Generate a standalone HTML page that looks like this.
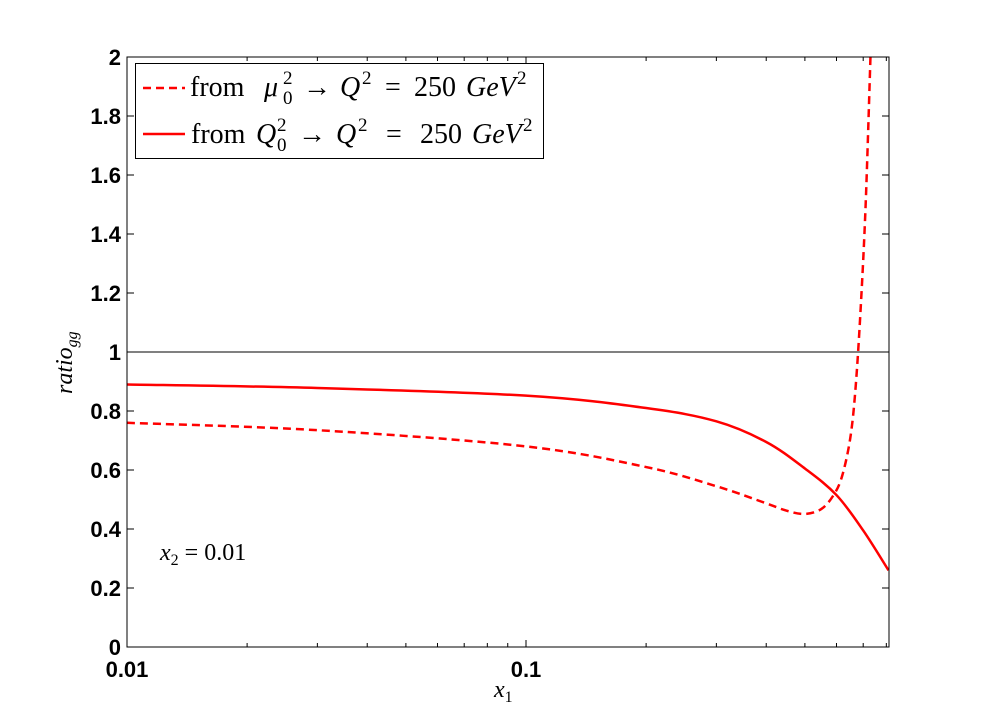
<!DOCTYPE html>
<html><head><meta charset="utf-8"><style>
html,body{margin:0;padding:0;background:#fff;}
svg{display:block;}
.tick{font-family:"Liberation Sans",sans-serif;font-weight:bold;font-size:22px;fill:#000;}
.math{font-family:"Liberation Serif",serif;font-size:24px;fill:#000;}
.leg{font-family:"Liberation Serif",serif;font-size:28px;fill:#000;}
.sm{font-size:19px;}
.it{font-style:italic;}
</style></head><body>
<svg id="chart" width="984" height="728" viewBox="0 0 984 728">
<rect x="0" y="0" width="984" height="728" fill="#fff"/>
<g id="grid"></g>
<g id="series"></g>
<rect x="127" y="57" width="762" height="590" fill="none" stroke="#000" stroke-width="1"/>
<g id="axes"></g>
<g>
<rect x="135.5" y="63.5" width="408" height="95" fill="#fff" stroke="#000" stroke-width="1"/>
<line x1="143" y1="88" x2="185" y2="88" stroke="#f00" stroke-width="2.5" stroke-dasharray="8,5"/>
<text class="leg" y="96"><tspan x="190">from</tspan><tspan class="it" x="264">μ</tspan><tspan class="sm" x="283" y="84">2</tspan><tspan class="sm" x="283" y="104">0</tspan><tspan x="303" y="96">→</tspan><tspan class="it" x="340">Q</tspan><tspan class="sm" x="362" y="84">2</tspan><tspan x="385" y="96">=</tspan><tspan x="414">250</tspan><tspan class="it" x="466">GeV</tspan><tspan class="sm" x="517" y="84">2</tspan></text>
<line x1="143" y1="134" x2="185" y2="134" stroke="#f00" stroke-width="2.5"/>
<text class="leg" y="143"><tspan x="191">from</tspan><tspan class="it" x="256">Q</tspan><tspan class="sm" x="277" y="131">2</tspan><tspan class="sm" x="277" y="151">0</tspan><tspan x="298" y="143">→</tspan><tspan class="it" x="336">Q</tspan><tspan class="sm" x="358" y="131">2</tspan><tspan x="386" y="143">=</tspan><tspan x="420">250</tspan><tspan class="it" x="472">GeV</tspan><tspan class="sm" x="523" y="131">2</tspan></text>
</g>
<text class="math" x="160" y="560"><tspan font-style="italic">x</tspan><tspan font-size="16" dy="5">2</tspan><tspan dy="-5"> = 0.01</tspan></text>
<text class="math" x="494" y="697" font-style="italic">x<tspan font-size="16" font-style="normal" dy="5">1</tspan></text>
<text class="math" transform="translate(72,394) rotate(-90)" font-style="italic">ratio<tspan font-size="16" dy="5">gg</tspan></text>
</svg>
<script>
const xTickValues=[0.01,0.1];
const xTickLabels=["0.01","0.1"];
const yTickValues=[0,0.2,0.4,0.6,0.8,1,1.2,1.4,1.6,1.8,2];
const yTickLabels=["0","0.2","0.4","0.6","0.8","1","1.2","1.4","1.6","1.8","2"];
const solidX=[0.01,0.03,0.1,0.2,0.3,0.4,0.5,0.6,0.7,0.81];
const solidY=[0.89,0.878,0.852,0.81,0.765,0.695,0.605,0.515,0.395,0.26];
const dashedX=[0.01,0.03,0.1,0.2,0.3,0.4,0.45,0.5,0.55,0.59,0.62,0.65,0.67,0.69,0.71,0.73];
const dashedY=[0.76,0.735,0.68,0.61,0.545,0.487,0.462,0.451,0.468,0.515,0.58,0.71,0.88,1.15,1.5,2.0];
const X0=127,X1=889,Y0=647,Y1=57,DEC=399;
function sx(v){return X0+(Math.log10(v)+2)*DEC;}
function sy(v){return Y0-(v/2)*(Y0-Y1);}
const NS="http://www.w3.org/2000/svg";
function mk(tag,attrs,parent){const e=document.createElementNS(NS,tag);for(const k in attrs)e.setAttribute(k,attrs[k]);parent.appendChild(e);return e;}
const axes=document.getElementById('axes'),grid=document.getElementById('grid'),series=document.getElementById('series');
const ref=mk('line',{x1:X0,x2:X1,y1:sy(1),y2:sy(1),stroke:'#000','stroke-width':1},grid);


yTickValues.forEach((v,i)=>{
 const y=sy(v);
 mk('line',{x1:X0,x2:X0+7,y1:y,y2:y,stroke:'#000'},axes);
 mk('line',{x1:X1,x2:X1-7,y1:y,y2:y,stroke:'#000'},axes);
 const t=mk('text',{x:X0-6,y:y+8,'text-anchor':'end',class:'tick'},axes);
 t.textContent=yTickLabels[i];
 
 
});
for(let d=-2;d<0;d++){for(let m=1;m<10;m++){const v=m*Math.pow(10,d);const x=sx(v);if(x>X1)break;const L=m===1?7:4;
 mk('line',{x1:x,x2:x,y1:Y0,y2:Y0-L,stroke:'#000'},axes);mk('line',{x1:x,x2:x,y1:Y1,y2:Y1+L,stroke:'#000'},axes);}}
xTickValues.forEach((v,i)=>{
 const t=mk('text',{x:sx(v),y:Y0+30,'text-anchor':'middle',class:'tick'},axes);
 t.textContent=xTickLabels[i];
 
 
});
function pathFor(xs,ys){
 const p=xs.map((x,i)=>[sx(x),sy(ys[i])]);
 let d='M'+p[0][0]+','+p[0][1];
 for(let i=0;i<p.length-1;i++){
  const a=p[Math.max(0,i-1)],b=p[i],c=p[i+1],e=p[Math.min(p.length-1,i+2)];
  const c1=[b[0]+(c[0]-a[0])/6,b[1]+(c[1]-a[1])/6],c2=[c[0]-(e[0]-b[0])/6,c[1]-(e[1]-b[1])/6];
  d+=' C'+c1+' '+c2+' '+c;
 }
 return d;
}
mk('clipPath',{id:'clip'},series);
mk('rect',{x:X0,y:Y1,width:X1-X0,height:Y0-Y1},document.getElementById('clip'));
const s1=mk('path',{d:pathFor(solidX,solidY),fill:'none',stroke:'#f00','stroke-width':2.5,'clip-path':'url(#clip)'},series);


const s2=mk('path',{d:pathFor(dashedX,dashedY),fill:'none',stroke:'#f00','stroke-width':2.5,'stroke-dasharray':'8,5','clip-path':'url(#clip)'},series);


</script>
</body></html>
